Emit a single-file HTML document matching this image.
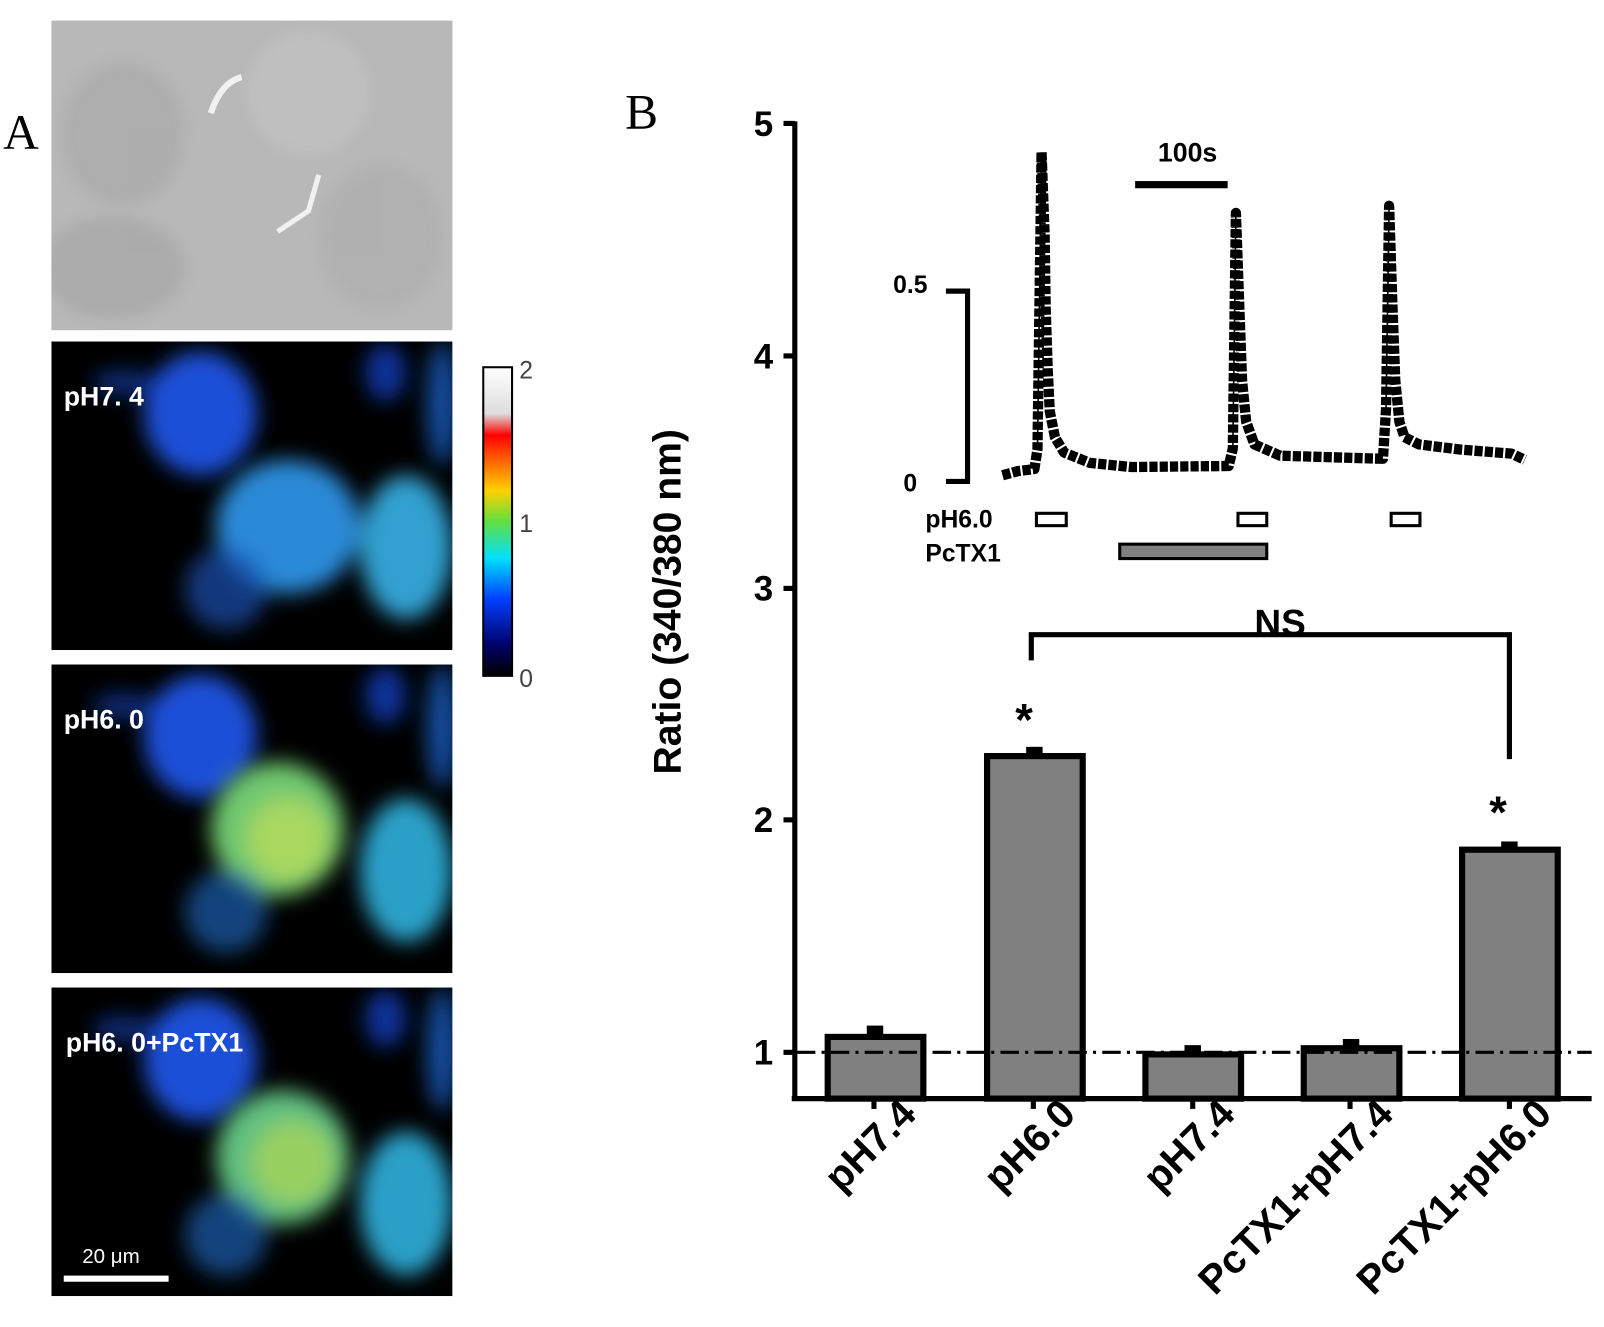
<!DOCTYPE html>
<html><head><meta charset="utf-8"><style>
html,body{margin:0;padding:0;background:#fff;}
svg{display:block;}
text{font-family:"Liberation Sans",Arial,sans-serif;}
</style></head><body>
<svg width="1604" height="1327" viewBox="0 0 1560 1290" preserveAspectRatio="none" xmlns="http://www.w3.org/2000/svg">
<defs>
<filter id="bl" x="-30%" y="-30%" width="160%" height="160%"><feGaussianBlur stdDeviation="10"/></filter>
<filter id="bl2"><feGaussianBlur stdDeviation="6"/></filter>
<clipPath id="cp"><rect x="0" y="0" width="390" height="300"/></clipPath>
<clipPath id="cp0"><rect x="50" y="20" width="390" height="301"/></clipPath>
<linearGradient id="cb" x1="0" y1="1" x2="0" y2="0">
<stop offset="0" stop-color="#000"/><stop offset="0.1" stop-color="#00006a"/><stop offset="0.25" stop-color="#0040ff"/>
<stop offset="0.38" stop-color="#00e0ff"/><stop offset="0.5" stop-color="#60e040"/><stop offset="0.6" stop-color="#ffd000"/>
<stop offset="0.7" stop-color="#ff6000"/><stop offset="0.78" stop-color="#ff0000"/><stop offset="0.85" stop-color="#ddd"/>
<stop offset="1" stop-color="#fff"/></linearGradient>
<g id="cells">
<rect x="0" y="0" width="390" height="300" fill="#000"/>
<g filter="url(#bl)">
<ellipse cx="145" cy="70" rx="55" ry="60" fill="#1a50d8"/>
<ellipse cx="70" cy="40" rx="30" ry="12" fill="#1440b0" opacity="0.7"/>
<ellipse cx="325" cy="30" rx="20" ry="28" fill="#1440c0" opacity="0.8"/>
<ellipse cx="380" cy="60" rx="15" ry="60" fill="#1a60c8" opacity="0.8"/>
</g>
</g>
</defs>

<!-- Panel A -->
<text x="3" y="145" font-size="48" style="font-family:'Liberation Serif',serif">A</text>
<rect x="50" y="20" width="390" height="301" fill="#b8b8b8"/>
<g filter="url(#bl2)" opacity="0.6" clip-path="url(#cp0)">
<ellipse cx="120" cy="130" rx="60" ry="70" fill="#a8a8a8"/>
<ellipse cx="300" cy="90" rx="60" ry="60" fill="#c4c4c4"/>
<ellipse cx="110" cy="260" rx="70" ry="50" fill="#a4a4a4"/>
<ellipse cx="370" cy="230" rx="60" ry="70" fill="#acacac"/>
</g>
<path d="M205,110 Q215,80 235,75" stroke="#fff" stroke-width="6" fill="none" opacity="0.8"/>
<path d="M270,225 L300,205 L310,170" stroke="#fff" stroke-width="5" fill="none" opacity="0.8"/>

<!-- pH7.4 -->
<g transform="translate(50,332)">
<g clip-path="url(#cp)">
<use href="#cells"/>
<g filter="url(#bl)">
<ellipse cx="230" cy="180" rx="70" ry="65" fill="#2a8ad8"/>
<ellipse cx="345" cy="200" rx="45" ry="70" fill="#30a0d0"/>
<ellipse cx="170" cy="240" rx="40" ry="40" fill="#1a50b0" opacity="0.7"/>
</g></g>
<text x="12" y="62" font-size="26" font-weight="bold" fill="#fff">pH7. 4</text>
</g>
<!-- pH6.0 -->
<g transform="translate(50,646)">
<g clip-path="url(#cp)">
<use href="#cells"/>
<g filter="url(#bl)">
<ellipse cx="220" cy="160" rx="65" ry="65" fill="#70c870"/>
<ellipse cx="230" cy="170" rx="40" ry="40" fill="#a8d860"/>
<ellipse cx="345" cy="200" rx="45" ry="70" fill="#2aa0c8"/>
<ellipse cx="170" cy="240" rx="40" ry="40" fill="#1a60b0" opacity="0.7"/>
</g></g>
<text x="12" y="62" font-size="26" font-weight="bold" fill="#fff">pH6. 0</text>
</g>
<!-- pH6.0+PcTX1 -->
<g transform="translate(50,960)">
<g clip-path="url(#cp)">
<use href="#cells"/>
<g filter="url(#bl)">
<ellipse cx="225" cy="165" rx="65" ry="65" fill="#60c080"/>
<ellipse cx="235" cy="170" rx="40" ry="40" fill="#98d060"/>
<ellipse cx="345" cy="210" rx="45" ry="70" fill="#2aa0c8"/>
<ellipse cx="170" cy="240" rx="40" ry="40" fill="#1a60b0" opacity="0.7"/>
</g></g>
<text x="14" y="62" font-size="26" font-weight="bold" fill="#fff">pH6. 0+PcTX1</text>
<rect x="12" y="280" width="102" height="6" fill="#fff"/>
<text x="30" y="268" font-size="20" fill="#fff">20  μm</text>
</g>
<!-- colorbar -->
<rect x="470" y="357" width="28" height="300" fill="url(#cb)" stroke="#000" stroke-width="2"/>
<text x="505" y="368" font-size="24" fill="#444">2</text>
<text x="505" y="517" font-size="24" fill="#444">1</text>
<text x="505" y="668" font-size="24" fill="#444">0</text>

<!-- Panel B -->
<text x="608" y="125" font-size="48" style="font-family:'Liberation Serif',serif">B</text>
<g stroke="#000" stroke-width="5" fill="none">
<line x1="773" y1="118" x2="773" y2="1070"/>
<line x1="770" y1="1068" x2="1548" y2="1068"/>
<line x1="762" y1="120" x2="773" y2="120"/>
<line x1="762" y1="346" x2="773" y2="346"/>
<line x1="762" y1="572" x2="773" y2="572"/>
<line x1="762" y1="797" x2="773" y2="797"/>
<line x1="762" y1="1023" x2="773" y2="1023"/>
<line x1="850" y1="1068" x2="850" y2="1078"/>
<line x1="1005" y1="1068" x2="1005" y2="1078"/>
<line x1="1160" y1="1068" x2="1160" y2="1078"/>
<line x1="1313" y1="1068" x2="1313" y2="1078"/>
<line x1="1468" y1="1068" x2="1468" y2="1078"/>
</g>
<g font-size="34" font-weight="bold" text-anchor="end">
<text x="752" y="132">5</text><text x="752" y="358">4</text><text x="752" y="584">3</text><text x="752" y="809">2</text><text x="752" y="1035">1</text>
</g>
<text transform="translate(662,585) rotate(-90)" font-size="38" font-weight="bold" text-anchor="middle">Ratio (340/380 nm)</text>

<!-- bars -->
<g fill="#808080" stroke="#000" stroke-width="6">
<rect x="805" y="1008" width="93" height="60"/>
<rect x="960" y="735" width="93" height="333"/>
<rect x="1114" y="1025" width="93" height="43"/>
<rect x="1268" y="1019" width="93" height="49"/>
<rect x="1422" y="826" width="93" height="242"/>
</g>
<g fill="#000">
<rect x="843" y="997" width="16" height="10"/>
<rect x="998" y="726" width="16" height="9"/>
<rect x="1152" y="1016" width="16" height="9"/>
<rect x="1306" y="1010" width="16" height="9"/>
<rect x="1460" y="818" width="16" height="8"/>
</g>
<line x1="775" y1="1023" x2="1548" y2="1023" stroke="#000" stroke-width="3" stroke-dasharray="18 6 3 6"/>

<!-- NS bracket -->
<path d="M1003,642 L1003,617 L1468,617 L1468,738" stroke="#000" stroke-width="5" fill="none"/>
<text x="1245" y="618" font-size="36" font-weight="bold" text-anchor="middle">NS</text>
<text x="996" y="715" font-size="44" font-weight="bold" text-anchor="middle">*</text>
<text x="1457" y="805" font-size="44" font-weight="bold" text-anchor="middle">*</text>

<!-- x labels -->
<g font-size="39" font-weight="bold" text-anchor="end">
<text transform="translate(893,1085) rotate(-45)">pH7.4</text>
<text transform="translate(1048,1085) rotate(-45)">pH6.0</text>
<text transform="translate(1203,1085) rotate(-45)">pH7.4</text>
<text transform="translate(1357,1085) rotate(-45)">PcTX1+pH7.4</text>
<text transform="translate(1511,1085) rotate(-45)">PcTX1+pH6.0</text>
</g>

<!-- inset -->
<path d="M920,283 L941,283 L941,468 L920,468" stroke="#000" stroke-width="5" fill="none"/>
<text x="902" y="285" font-size="24" font-weight="bold" text-anchor="end">0.5</text>
<text x="892" y="478" font-size="24" font-weight="bold" text-anchor="end">0</text>
<rect x="1104" y="176" width="90" height="7" fill="#000"/>
<text x="1155" y="157" font-size="26" font-weight="bold" text-anchor="middle">100s</text>
<path d="M975,462 L990,458 L1006,456 L1009,437 L1013,148 L1016,230 L1017,300 L1019,360 L1021,400 L1026,425 L1035,440 L1060,450 L1100,454 L1195,453 L1199,436 L1202,207 L1205,290 L1208,370 L1212,410 L1220,432 L1245,443 L1345,446 L1348,398 L1351,200 L1354,290 L1357,370 L1361,410 L1366,425 L1380,432 L1420,437 L1470,441 L1483,447"
 stroke="#000" stroke-width="10" fill="none" stroke-dasharray="8 2" stroke-linejoin="round"/>
<path d="M1009,437 L1013,148 M1199,436 L1202,207 M1348,398 L1351,200" stroke="#000" stroke-width="1.5"/>
<text x="900" y="513" font-size="24" font-weight="bold">pH6.0</text>
<text x="900" y="546" font-size="24" font-weight="bold">PcTX1</text>
<g fill="#fff" stroke="#000" stroke-width="3">
<rect x="1008" y="499" width="29" height="12"/>
<rect x="1204" y="499" width="28" height="12"/>
<rect x="1353" y="499" width="28" height="12"/>
</g>
<rect x="1089" y="529" width="143" height="14" fill="#808080" stroke="#000" stroke-width="3"/>
</svg>
</body></html>
